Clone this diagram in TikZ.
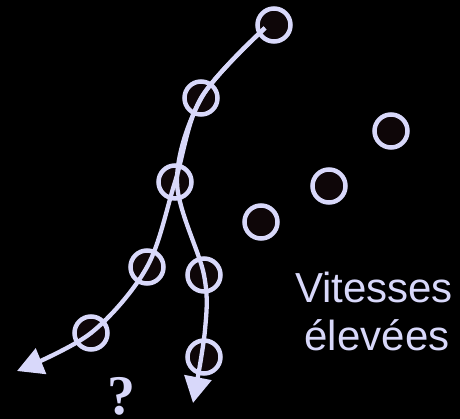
\documentclass[tikz,border=0pt]{standalone}
\usepackage{fontspec}
\setmainfont{Liberation Sans}
\newfontfamily\qfont{Liberation Serif}
\usetikzlibrary{arrows.meta}
\definecolor{lav}{RGB}{216,216,250}
\definecolor{dot}{RGB}{14,6,8}
\begin{document}
\begin{tikzpicture}[x=1pt,y=-1pt,
  ring/.style={circle,draw=lav,line width=4.5pt,fill=dot,minimum size=33pt,inner sep=0pt},
  traj/.style={draw=lav,line width=4.3pt,-{Triangle[length=26pt,width=27pt]}},
  lbl/.style={text=lav,font=\fontsize{42}{48}\selectfont,anchor=base}]
\fill[black] (0,0) rectangle (460,419);
\useasboundingbox (0,0) rectangle (460,419);
% circles
\node[ring] (c1) at (274,25) {};
\node[ring] (c2) at (201,98) {};
\node[ring] (c3) at (175,182) {};
\node[ring] (c4) at (147,267) {};
\node[ring] (c5) at (204,275) {};
\node[ring] (c6) at (91,333) {};
\node[ring] (c7) at (204,357) {};
\node[ring] (r1) at (391,131) {};
\node[ring] (r2) at (329,186) {};
\node[ring] (r3) at (261,222) {};
% trajectories
\coordinate (s) at (265,28);
\coordinate (tl) at (17,371);
\coordinate (tr) at (193,403);
\path[traj] plot[smooth,tension=0.55] coordinates {(s) (c2.center) (c3.center) (c4.center) (c6.center) (tl)};
\path[traj] plot[smooth,tension=0.55] coordinates {(s) (202,97) (177,182) (204,275) (205,330) (tr)};
% labels
\node[lbl] (v1) at (374,302) {Vitesses};
\node[lbl] (v2) at (377,350) {élevées};
\node[text=lav,font=\qfont\bfseries\fontsize{56}{60}\selectfont,anchor=base,inner sep=0pt,text depth=0pt] (q) at (121,414) {?};
\end{tikzpicture}
\end{document}
